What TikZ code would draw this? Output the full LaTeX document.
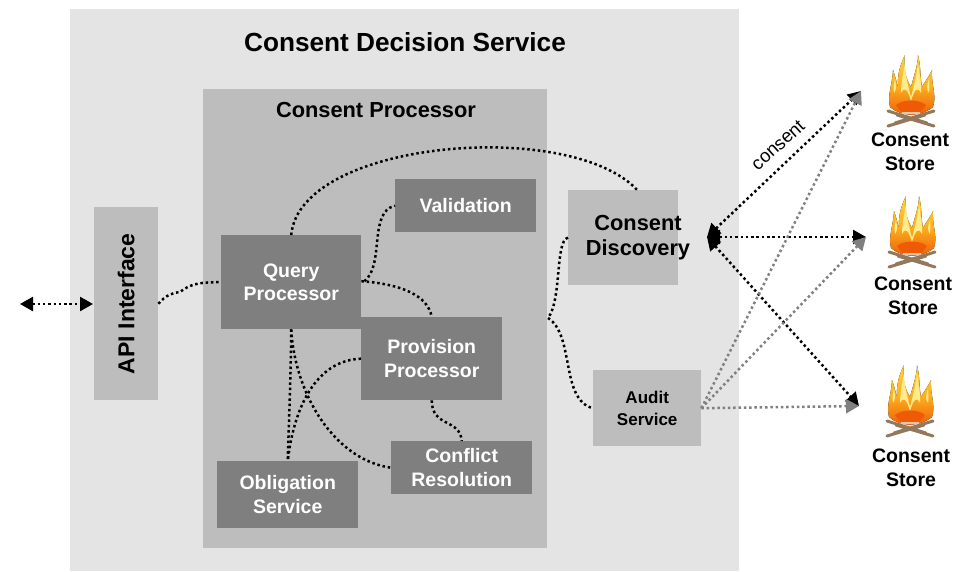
\documentclass[tikz,border=0pt]{standalone}
\usepackage{fontspec}
\setmainfont{Liberation Sans}
\usetikzlibrary{calc,arrows.meta}
\definecolor{outergray}{HTML}{E4E4E4}
\definecolor{lightbox}{HTML}{BDBDBD}
\definecolor{darkbox}{HTML}{7F7F7F}
\definecolor{linegray}{HTML}{808080}
\definecolor{flametop}{HTML}{FFD23C}
\definecolor{flamemid}{HTML}{FBB020}
\definecolor{flamelow}{HTML}{EE5A06}
\definecolor{flamepale}{HTML}{FFEB8C}
\definecolor{logbrown}{HTML}{94785C}
\tikzset{
  pbox/.style={fill=darkbox,text=white,font=\bfseries\fontsize{19.5}{23.5}\selectfont,align=center,inner sep=0pt,anchor=north west},
  sbox/.style={fill=lightbox,text=black,font=\bfseries\fontsize{19.5}{23.5}\selectfont,align=center,inner sep=0pt,anchor=north west},
  wire/.style={line width=2.5pt,dash pattern=on 2.5pt off 2.8pt},
  feed/.style={wire,linegray,-{Triangle[length=13pt,width=14pt]}},
  pull/.style={wire,{Triangle[length=13pt,width=14pt]}-{Triangle[length=13pt,width=14pt]}},
  storelabel/.style={font=\bfseries\fontsize{19.5}{23.5}\selectfont,align=center,inner sep=0pt},
  flame/.pic={
    \fill[top color=flametop,bottom color=flamelow,middle color=flamemid]
      (-21,52) .. controls (-24,40) and (-19,32) .. (-18,15)
      .. controls (-15,24) and (-14,28) .. (-13,34)
      .. controls (-14,20) and (-11,10) .. (-6,0)
      .. controls (-8,14) and (-5,24) .. (0,32)
      .. controls (3,20) and (7,10) .. (7,0)
      .. controls (10,12) and (9,22) .. (11,32)
      .. controls (14,26) and (18,22) .. (21,15)
      .. controls (20,30) and (26,40) .. (22,52)
      .. controls (10,62) and (-10,62) .. (-21,52) -- cycle;
    \fill[flamepale]
      (-10,38) .. controls (-10,30) and (-8,18) .. (-6,8)
      .. controls (-6,20) and (-3,30) .. (0,42)
      .. controls (3,30) and (6,20) .. (7,8)
      .. controls (8,18) and (11,30) .. (10,38)
      .. controls (6,30) and (3,36) .. (0,46)
      .. controls (-3,36) and (-6,30) .. (-10,38) -- cycle;
    \fill[flamepale] (-17,38) .. controls (-18,32) and (-17,28) .. (-16,24)
      .. controls (-15,30) and (-14,34) .. (-17,38) -- cycle;
    \fill[flamepale] (18,38) .. controls (19,32) and (18,28) .. (18,24)
      .. controls (16,30) and (15,34) .. (18,38) -- cycle;
    \fill[flamelow] (-15,50) .. controls (-8,44) and (8,44) .. (15,50)
      .. controls (8,63) and (-8,63) .. (-15,50) -- cycle;
    \draw[logbrown,line width=3pt,line cap=round]
      (-23,56) -- (16,68) (23,56) -- (-16,68) (-23,71) -- (14,60) (23,71) -- (-14,60);
    \draw[brown!45!white,line width=2.4pt] (-9,58) -- (9,58);
  }
}
\begin{document}
\begin{tikzpicture}[x=1pt,y=-1pt]
  \useasboundingbox (0,0) rectangle (960,572);
  % containers
  \fill[outergray] (70,9) rectangle (739,571);
  \fill[lightbox] (203,89) rectangle (547,548);
  \node[font=\bfseries\fontsize{26.2}{30}\selectfont,inner sep=0pt] (title) at (405,42) {Consent Decision Service};
  \node[font=\bfseries\fontsize{21.8}{26}\selectfont,inner sep=0pt] (proctitle) at (376,110) {Consent Processor};

  % services
  \node[sbox,minimum width=64pt,minimum height=193pt] (api) at (94,207) {};
  \node[font=\bfseries\fontsize{23}{26}\selectfont,rotate=90,inner sep=0pt] (apilabel) at (api.center) {API Interface};
  \node[pbox,minimum width=140pt,minimum height=94pt] (query) at (221,235) {Query\\Processor};
  \node[pbox,minimum width=141pt,minimum height=53pt] (valid) at (395,179) {Validation};
  \node[pbox,minimum width=141pt,minimum height=83pt] (prov) at (361,317) {Provision\\Processor};
  \node[pbox,minimum width=141pt,minimum height=53pt] (conflict) at (391,441) {Conflict\\Resolution};
  \node[pbox,minimum width=141pt,minimum height=67pt] (oblig) at (217,461) {Obligation\\Service};
  \node[sbox,minimum width=110pt,minimum height=95pt] (disc) at (568,190) {};
  \node[font=\bfseries\fontsize{21.8}{25}\selectfont,align=center,inner sep=0pt] (disclabel) at (638,238) {Consent\\Discovery};
  \node[sbox,font=\bfseries\fontsize{17}{22}\selectfont,minimum width=108pt,minimum height=76pt] (audit) at (593,370) {Audit\\Service};

  % stores
  \pic at (911,55) {flame};
  \pic at (912,196) {flame};
  \pic at (910,365) {flame};
  \node[storelabel] (store1) at (910,152) {Consent\\Store};
  \node[storelabel] (store2) at (913,296) {Consent\\Store};
  \node[storelabel] (store3) at (911,468) {Consent\\Store};

  \coordinate (client) at (20,304);
  \coordinate (apiport) at (93,304);
  \coordinate (fork) at (548,318);
  \coordinate (discport) at (707,237);
  \coordinate (target1) at (861,91);
  \coordinate (target2) at (866,237);
  \coordinate (target3) at (859,406);

  % external links
  \draw[wire,{Triangle[length=13pt,width=14pt]}-{Triangle[length=13pt,width=14pt]}] (client) -- (apiport);
  \draw[pull] (discport) -- (target1);
  \draw[pull] (discport) -- (target2);
  \draw[pull] (discport) -- (target3);
  \draw[feed] (audit.east) -- (target1);
  \draw[feed] (audit.east) -- (target2);
  \draw[feed] (audit.east) -- (target3);
  \node[rotate=42,font=\fontsize{18.5}{22}\selectfont,inner sep=0pt] (consentlabel) at (778,145) {consent};

  % internal links
  \draw[wire] (api.east) .. controls (166,295) and (172,293) .. (180,292) .. controls (190,284) and (200,282) .. (query.west);
  \draw[wire] (query.north) .. controls (300,140) and (570,118) .. ($(disc.north)+(14,0)$);
  \draw[wire] ($(query.east)+(3,-1)$) .. controls (385,265) and (368,212) .. (valid.west);
  \draw[wire] ($(query.east)+(0,-1)$) .. controls (400,284) and (428,295) .. (prov.north);
  \draw[wire] (query.south) .. controls (291,370) and (289,420) .. (oblig.north);
  \draw[wire] (query.south) .. controls (295,395) and (335,460) .. (conflict.west);
  \draw[wire] (prov.west) .. controls (320,360) and (295,400) .. (oblig.north);
  \draw[wire] (prov.south) .. controls (432,428) and (460,418) .. (conflict.north);
  \draw[wire] (disc.west) .. controls (555,240) and (562,300) .. (fork);
  \draw[wire] (fork) .. controls (575,335) and (560,400) .. (audit.west);
\end{tikzpicture}
\end{document}
